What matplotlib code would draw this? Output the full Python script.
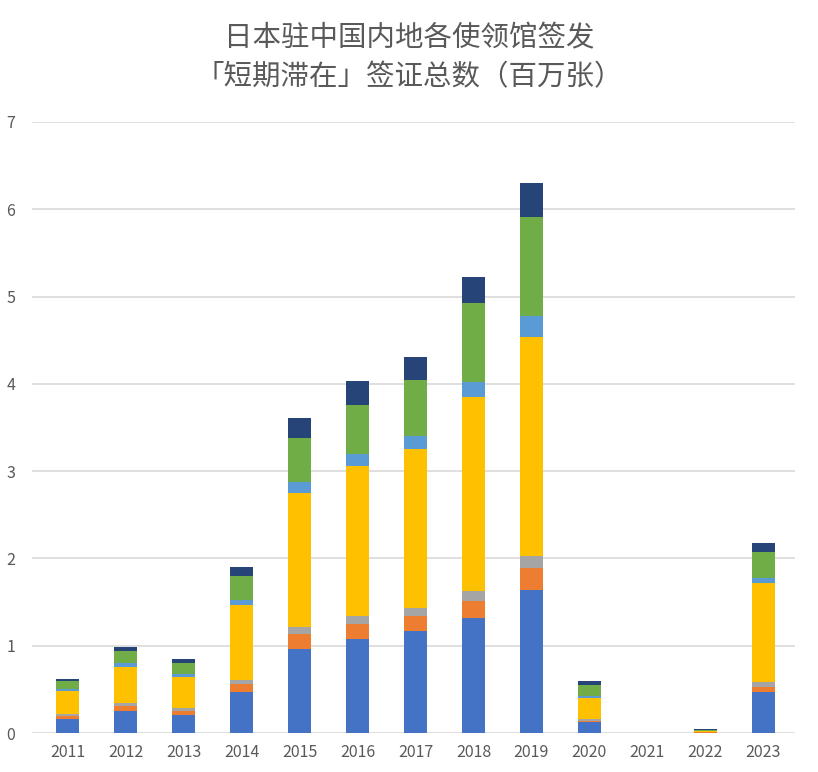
import numpy as np
import matplotlib
matplotlib.use("Agg")
from matplotlib import pyplot as plt

plt.rcParams['font.family'] = ['Noto Sans CJK SC', 'DejaVu Sans']

years = ['2011', '2012', '2013', '2014', '2015', '2016', '2017',
         '2018', '2019', '2020', '2021', '2022', '2023']

# stacked segments, bottom to top (millions)
s_blue = [0.16, 0.255, 0.206, 0.47, 0.962, 1.08, 1.168, 1.32, 1.635, 0.124, 0.0, 0.005, 0.471]
s_orange = [0.038, 0.057, 0.046, 0.092, 0.172, 0.168, 0.172, 0.191, 0.252, 0.016, 0.0, 0.002, 0.058]
s_gray = [0.023, 0.034, 0.034, 0.046, 0.08, 0.092, 0.092, 0.115, 0.145, 0.026, 0.0, 0.002, 0.057]
s_yellow = [0.26, 0.41, 0.355, 0.863, 1.53, 1.72, 1.82, 2.22, 2.504, 0.231, 0.0, 0.015, 1.134]
s_lblue = [0.027, 0.046, 0.034, 0.05, 0.13, 0.134, 0.149, 0.172, 0.246, 0.027, 0.0, 0.003, 0.054]
s_green = [0.084, 0.137, 0.13, 0.282, 0.504, 0.561, 0.641, 0.905, 1.13, 0.122, 0.0, 0.01, 0.304]
s_navy = [0.023, 0.046, 0.042, 0.103, 0.229, 0.275, 0.263, 0.298, 0.39, 0.047, 0.0, 0.008, 0.104]

series = [s_blue, s_orange, s_gray, s_yellow, s_lblue, s_green, s_navy]
colors = ['#4472C4', '#ED7D31', '#A5A5A5', '#FFC000', '#5B9BD5', '#70AD47', '#264478']

fig = plt.figure(figsize=(8.18, 7.72), dpi=100)
ax = fig.add_axes([0.039, 0.0505, 0.933, 0.7915])

x = np.arange(len(years))
bottom = np.zeros(len(years))
for vals, c in zip(series, colors):
    ax.bar(x, vals, width=0.4, bottom=bottom, color=c, zorder=3)
    bottom += np.array(vals)

ax.set_xlim(-0.62, 12.55)
ax.set_ylim(0, 7)
ax.set_yticks(range(0, 8))
ax.set_xticks(x)
ax.set_xticklabels(years)
ax.grid(axis='y', color='#D9D9D9', linewidth=1.2, zorder=0)
for s in ax.spines.values():
    s.set_visible(False)
ax.tick_params(length=0, colors='#595959', labelsize=11.5)
ax.tick_params(axis='y', pad=12)
ax.tick_params(axis='x', pad=8)

fig.text(0.5, 0.950, '日本驻中国内地各使领馆签发', ha='center', va='center',
         fontsize=20.5, color='#595959')
fig.text(0.5, 0.900, '「短期滞在」签证总数（百万张）', ha='center', va='center',
         fontsize=20.5, color='#595959')

fig.savefig('out.png', dpi=100)
